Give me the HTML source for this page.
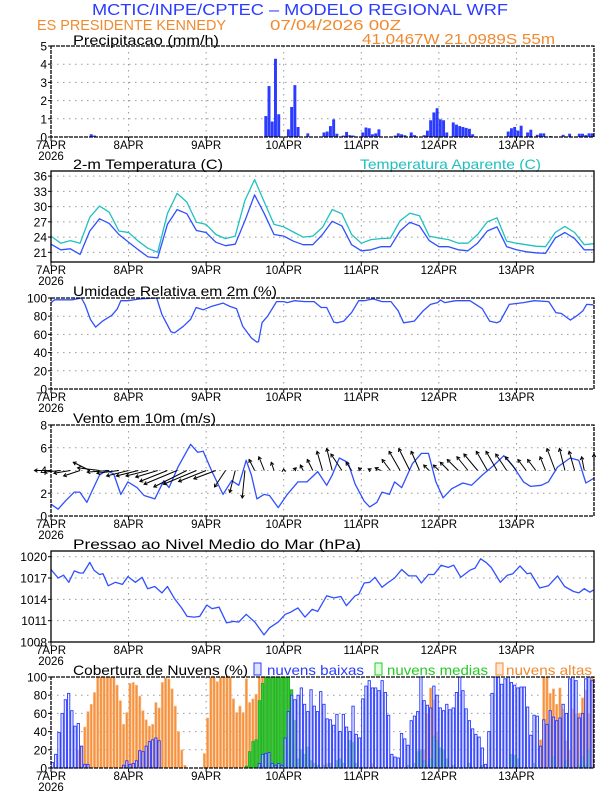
<!DOCTYPE html>
<html><head><meta charset="utf-8"><style>
body{margin:0;background:#fff}
svg{display:block;font-family:"Liberation Sans",sans-serif}
</style></head><body>
<svg id="chart" width="612" height="792" viewBox="0 0 612 792">
<rect width="612" height="792" fill="#fff"/>
<text x="92" y="15" font-size="16" fill="#2b3bff" textLength="416" lengthAdjust="spacingAndGlyphs">MCTIC/INPE/CPTEC – MODELO REGIONAL WRF</text>
<text x="37" y="30" font-size="15" fill="#f08a30" textLength="189" lengthAdjust="spacingAndGlyphs">ES PRESIDENTE KENNEDY</text>
<text x="270" y="30" font-size="15" fill="#f08a30" textLength="131" lengthAdjust="spacingAndGlyphs">07/04/2026 00Z</text>
<text x="362" y="44" font-size="15" fill="#f08a30" textLength="193" lengthAdjust="spacingAndGlyphs">41.0467W 21.0989S 55m</text>
<text x="73" y="45" font-size="14" fill="#000" textLength="146" lengthAdjust="spacingAndGlyphs">Precipitacao (mm/h)</text>
<text x="73" y="169" font-size="14" fill="#000" textLength="150" lengthAdjust="spacingAndGlyphs">2-m Temperatura (C)</text>
<text x="360" y="169" font-size="14" fill="#20c0c0" textLength="181" lengthAdjust="spacingAndGlyphs">Temperatura Aparente (C)</text>
<text x="73" y="296" font-size="14" fill="#000" textLength="204" lengthAdjust="spacingAndGlyphs">Umidade Relativa em 2m (%)</text>
<text x="73" y="423" font-size="14" fill="#000" textLength="143" lengthAdjust="spacingAndGlyphs">Vento em 10m (m/s)</text>
<text x="73" y="549" font-size="14" fill="#000" textLength="288" lengthAdjust="spacingAndGlyphs">Pressao ao Nivel Medio do Mar (hPa)</text>
<text x="73" y="675" font-size="14" fill="#000" textLength="175" lengthAdjust="spacingAndGlyphs">Cobertura de Nuvens (%)</text>
<rect x="254" y="663" width="7" height="12" fill="#dfe4ff" stroke="#2b3bff"/>
<text x="267" y="675" font-size="14" fill="#2b3bff" textLength="97" lengthAdjust="spacingAndGlyphs">nuvens baixas</text>
<rect x="375" y="663" width="7" height="12" fill="#dfffdf" stroke="#22cc22"/>
<text x="387" y="675" font-size="14" fill="#22cc22" textLength="101" lengthAdjust="spacingAndGlyphs">nuvens medias</text>
<rect x="496" y="663" width="7" height="12" fill="#ffe6d0" stroke="#f08a30"/>
<text x="506" y="675" font-size="14" fill="#f08a30" textLength="86" lengthAdjust="spacingAndGlyphs">nuvens altas</text>
<g id="plots"></g>
</svg>
<script>
// ---- data ----
const dayLabels = ["7APR","8APR","9APR","10APR","11APR","12APR","13APR"];
const precipHours = [5,12,13,66,67,68,69,70,73,74,75,76,79,84,85,86,87,88,90,91,92,93,96,97,98,99,100,101,106,107,108,109,111,112,115,116,117,118,119,120,121,122,124,125,126,127,128,129,130,141,142,143,144,145,147,148,150,151,152,154,158,160,163,164,165,166,167];
const precipValues = [0.03,0.15,0.08,1.15,2.8,0.85,4.3,1.25,0.42,1.65,2.85,0.55,0.2,0.25,0.3,0.6,0.97,0.18,0.08,0.28,0.1,0.08,0.25,0.52,0.48,0.15,0.2,0.42,0.08,0.2,0.15,0.1,0.25,0.1,0.1,0.35,0.92,1.35,1.58,0.97,0.92,0.25,0.8,0.68,0.6,0.55,0.5,0.45,0.15,0.3,0.48,0.55,0.35,0.62,0.25,0.4,0.12,0.2,0.2,0.05,0.12,0.18,0.18,0.18,0.1,0.2,0.2];
const tempHours = [0,3,6,9,12,15,18,21,24,27,30,33,36,39,42,45,48,51,54,57,60,63,66,69,72,75,78,81,84,87,90,93,96,99,102,105,108,111,114,117,120,123,126,129,132,135,138,141,144,147,150,153,156,159,162,165,168];
const tempValues = [22.6,21.5,21.7,20.6,25.2,27.6,26.7,24.5,23.0,21.5,20.1,19.9,26.5,29.4,28.6,25.3,24.9,23.0,22.3,22.6,27.2,32.3,28.6,24.5,24.2,23.2,22.5,22.5,24.5,27.1,26.2,22.5,21.3,21.5,22.1,22.1,25.2,26.9,26.2,23.3,22.1,22.1,21.5,21.3,22.8,25.2,26.0,22.1,21.5,21.1,20.9,20.8,23.8,24.9,23.7,21.5,21.5];
const apparentValues = [24.2,22.8,23.3,22.8,27.9,30.1,28.9,25.2,24.9,23.2,21.8,21.0,28.6,32.6,30.9,26.9,26.5,24.5,23.7,24.2,31.2,35.3,30.9,26.5,26.0,25.0,24.0,24.2,25.9,29.4,28.6,24.5,22.8,23.5,23.7,23.8,27.2,28.7,28.2,24.2,23.8,23.5,22.8,22.8,24.5,27.0,27.8,23.2,22.8,22.5,22.2,22.1,24.9,26.1,24.9,22.5,22.7];
const rhHours = [0,1.1,6.6,9.4,10.5,12.2,13.8,16.1,18.8,20.5,21.6,23.8,27.7,32.7,34.3,37.1,38.2,41,43.2,44.9,47.1,49.8,53.2,55.4,57.4,59.3,62,63.7,64.2,65.3,67,69.8,72,73.1,75.3,78.6,81.4,83.6,85.3,87.5,88.6,90.6,93,95.2,96.9,99.7,102.4,105.2,107.4,109.1,112.4,115.2,117.4,119.6,120.5,121.8,125.2,129.6,133.4,135.7,137.9,139,141.8,146.2,149.5,154,156.2,157.9,160.7,162.9,164.6,165.7,167.8];
const rhValues = [95,98,98,100,93,76.5,68,75,81,88,97,97,99,100,82,63,61.6,69,76.5,89.6,87,91,94.4,90.7,88.4,69,56,51.5,52,73,80,96,96,95,97,96,96,89.6,89.6,73.5,72.8,74.6,84,97,97,99,96,96,86,72.8,74.6,86,93,95,97.8,95,97,97,88.4,74.6,72.8,74.6,93,95,97,96,84,83,75.7,81,86,93,92.5];
const windHours = [0,2.2,4.4,7.2,8.9,11.1,12.7,15,17.2,19.4,21.6,23.8,26.6,28.8,32.1,34.9,36.5,39.3,43.2,45.4,47.1,49.8,53.2,55.9,58.1,60.4,62,63.7,65.9,67.6,70.3,73.1,76.4,79.2,82.5,85.3,87,89.2,91.9,94.1,96.9,98.6,100.8,102.4,104.7,106.3,108.5,111.8,114.6,116.8,119.1,121.3,124,127.4,130.1,133.4,136.8,140.1,142.9,146.2,148.4,151.7,153.9,156.7,160.6,163.3,165.5,167.8];
const windSpeed = [1.04,0.6,1.3,2.1,2.1,1.2,2.2,3.6,4.0,3.7,1.9,3.0,2.5,1.8,1.5,3.1,2.5,4.3,6.3,5.6,5.7,3.9,1.9,3.1,2.7,4.9,3.6,1.5,1.9,1.8,0.74,1.9,3.0,3.0,3.9,2.7,3.6,5.1,4.7,2.8,1.3,0.8,1.2,2.1,1.9,3.0,2.5,4.6,5.5,5.5,3.0,1.6,2.4,2.9,2.7,3.6,4.4,5.3,4.4,3.0,2.6,2.7,3.0,4.3,5.1,4.9,2.9,3.3];
const windU = [-3,-3,-3,-3,-3,-4,-4,-4,-4,-4,-4,-4,-5,-6,-6,-6,-5,-4,-2,-1,-0.5,-1,-1,-0.5,0,0.5,-0.5,-1,-1,-1,-2,-1,-0.5,-0.5,-1,-1.5,-2,-2,-1.5,-1,-1,-1.5,-2,-2,-2.5,-2,-2,-2,-2,-1.5,-1.5,-1,-1.5,-1,-1,-0.5,0];
const windV = [0,-0.3,-0.5,-1,1.5,0.5,-0.3,-0.5,-1,-1,-1,-1.2,-2,-2.5,-3,-2.5,-2,-1.5,-3,-4,-5,2,2.5,1.5,0.3,0.5,1,2,3.5,4,3,1.5,0.5,0.3,0.5,2,3.5,4,3.5,1,1,1.5,2,2.5,3,3.5,3.5,3,2.5,2,2,2.5,4,4,3.5,2.5,3];
const pressHours = [0,2.2,3.9,5.5,7.2,8.9,10,12,13.3,15,16.1,17.7,19.9,22.1,23.8,26.1,28.2,29.9,32.1,34.3,36,38.2,40.4,42.1,44.3,46,48.2,49.8,52,54.3,56.5,58.1,60.4,63.1,65.9,67.6,70.3,72.5,74.2,76.4,78.6,80.8,82.5,85.3,87.5,89.7,91.4,94.1,95.2,96.9,98.6,100.2,102.4,104.1,106.3,108.5,110.7,113,114.6,116.8,118.5,120.7,122.9,124.6,126.8,129.6,131.2,132.9,134.6,136.2,139,141.2,142.9,145.1,147.3,148.4,151.2,153.9,156.7,158.9,161.7,163.3,165,166.7,167.8];
const pressValues = [1018.2,1017.0,1017.4,1016.4,1018.0,1017.7,1017.7,1019.2,1018.1,1017.5,1017.6,1015.9,1016.4,1016.1,1017.2,1016.4,1017.1,1015.5,1015.8,1014.9,1015.8,1014.1,1012.8,1011.6,1011.5,1011.6,1013.2,1012.7,1012.9,1010.7,1010.9,1010.8,1011.9,1010.8,1009.0,1010.0,1010.8,1011.9,1012.2,1012.8,1011.5,1012.6,1012.3,1014.5,1014.2,1014.4,1013.1,1014.5,1014.7,1016.3,1016.4,1017.1,1015.7,1016.3,1017.0,1018.2,1017.3,1017.3,1016.3,1017.5,1017.5,1018.8,1018.5,1018.8,1017.1,1018.1,1018.4,1019.7,1019.2,1018.5,1016.4,1017.4,1017.6,1018.7,1017.6,1017.7,1015.6,1015.9,1017.3,1015.8,1015.1,1014.9,1015.5,1015.0,1015.3];
const cloudLow = [6,15,39,60,75,82,63,46,49,24,4,4, 0,0,0,0,0,0,0,0,0,0, 3,8,4,5,8,19,18,24,29,31,33,30,
 0,0,0,0,0,0,0,0,0,0,0,0,0,0,0,0,0,0,0,0,0,0,0,0,0,0,0,0,0,0, 5,15,16,17,5,3,5,3,
 33,62,80,75,80,88,70,62,86,68,62,84,70,54,53,47,59,40,59,45,40,68,37,33,
 76,90,96,88,88,85,96,83,58,15,12,11,38,32,25,52,57,62,100,74,69,66,90,80,
 66,63,70,64,66,83,100,85,65,52,43,37,34,22,4,40,82,100,100,92,98,100,94,91,
 88,89,89,67,36,58,57,24,53,48,63,56,52,55,70,60,98,100,96,55,60,98,100,96];
const cloudMid = [0,0,0,0,0,0,0,0,0,0,0,0,0,0,0,0,0,0,0,0,0,0,0,0,0,0,0,0,0,0,0,0,0,0,0,0,0,0,0,0,0,0,0,0,0,0,0,0,0,0,0,0,0,0,0,0,0,0,0,0,
 2,18,29,31,74,93,100,100,100,100,100,100, 100,100,86,52,10,20,15,23,8,5,3,0, 3,0,5,0,8,10,5,0,30,28,5,0,
 0,0,0,0,0,0,0,0,0,0,0,0, 0,0,3,0,5,18,20,8,3,10,35,30, 22,20,10,0,3,0,0,0,0,5,0,0,
 0,3,0,0,0,0,0,0,0,0,15,14, 10,0,0,0,0,5,0,0,0,0,0,12, 0,0,0,8,0,0,0,3,12,3,20,0];
const cloudHigh = [0,0,0,0,0,0,0,0, 20,24,45,62,70,83,100,100,100,100,100,100, 91,74,48,61,93,94,91,79,63,53,46,48,
 72,66,94,99,98,87,68,40,20,3,0,0, 0,0,0,16,55,100,100,95,100,100,100,100, 76,61,68,61,98,72,76,81,100,100,100,100,
 100,100,100,100,100,80,20,0,5,0,0,0, 0,0,0,0,0,5,0,0,0,0,0,0, 0,0,0,0,0,0,0,5,0,0,0,0,
 0,0,0,0,0,0,0,0,0,0,3,20, 60,88,75,40,15,0,5,0,0,0,0,0, 0,0,0,0,0,0,0,0,0,0,0,0,
 0,0,0,0,0,0,0,0,0,0,0,31, 100,100,82,87,70,88,65,30,20,65,60,60, 77,86,60,100];

// ---- layout ----
const NS = "http://www.w3.org/2000/svg";
const X0 = 51, X1 = 594, HOURS = 168;
const xh = h => X0 + h * (X1 - X0) / HOURS;
const root = document.getElementById('plots');
function mk(tag, attrs, parent) {
  const e = document.createElementNS(NS, tag);
  for (const k in attrs) e.setAttribute(k, attrs[k]);
  (parent || root).appendChild(e);
  return e;
}
const panels = {
  precip: {top: 46, bottom: 137, min: 0, max: 5, ticks: [0,1,2,3,4,5], dash: "4,1"},
  temp: {top: 171, bottom: 262, min: 19.1, max: 37.0, ticks: [21,24,27,30,33,36], dash: ""},
  rh: {top: 298, bottom: 389, min: 0, max: 100, ticks: [0,20,40,60,80,100], dash: "4,1"},
  wind: {top: 425, bottom: 516, min: 0, max: 8, ticks: [0,2,4,6,8], dash: "4,1"},
  press: {top: 551, bottom: 642, min: 1008, max: 1020.8, ticks: [1008,1011,1014,1017,1020], dash: ""},
  cloud: {top: 677, bottom: 768, min: 0, max: 100, ticks: [0,20,40,60,80,100], dash: "4,1"}
};
function yOf(p, v) { return p.bottom - (v - p.min) / (p.max - p.min) * (p.bottom - p.top); }

function drawFrame(name, p) {
  const g = mk('g', {});
  
  
  p.ticks.forEach(t => {
    const y = yOf(p, t);
    if (y > p.top + 1 && y < p.bottom - 1) {
      const gl = mk('line', {x1: X0, x2: X1, y1: y, y2: y, stroke: '#999', 'stroke-dasharray': '1.5,4.5', 'stroke-width': 1}, g);
      
      
    }
    const tl = mk('text', {x: 47, y: y + 4.5, 'font-size': 12, 'text-anchor': 'end', fill: '#000'}, g);
    tl.textContent = t;
    
    
    mk('line', {x1: X0 - 3, x2: X0, y1: y, y2: y, stroke: '#000'}, g);
  });
  dayLabels.forEach((d, i) => {
    const x = xh(i * 24);
    if (i > 0) {
      const vl = mk('line', {x1: x, x2: x, y1: p.top, y2: p.bottom, stroke: '#999', 'stroke-dasharray': '1.5,4.5'}, g);
      
      
    }
    mk('line', {x1: x, x2: x, y1: p.bottom, y2: p.bottom + 4, stroke: '#000'}, g);
    const lbl = mk('text', {x: x, y: p.bottom + 12, 'font-size': 11.5, 'text-anchor': 'middle', fill: '#000'}, g);
    lbl.textContent = d;
    
    
  });
  const yr = mk('text', {x: X0, y: p.bottom + 23, 'font-size': 11.5, 'text-anchor': 'middle', fill: '#000'}, g);
  yr.textContent = '2026';
  
  
  return g;
}
function drawBorder(name, p) {
  const b = mk('rect', {x: X0, y: p.top, width: X1 - X0, height: p.bottom - p.top, fill: 'none', stroke: '#000', 'stroke-width': 1.3, 'stroke-dasharray': p.dash});
  
  
}
function drawLine(name, p, hours, vals, color) {
  const n = Math.min(hours.length, vals.length);
  const pts = [];
  for (let i = 0; i < n; i++) pts.push(xh(hours[i]).toFixed(1) + ',' + yOf(p, vals[i]).toFixed(1));
  const l = mk('polyline', {points: pts.join(' '), fill: 'none', stroke: color, 'stroke-width': 1.3, 'stroke-linejoin': 'round'});
  
  
}
for (const k in panels) drawFrame(k, panels[k]);

// precipitation bars
const bw = (X1 - X0) / HOURS;
precipHours.forEach((h, i) => {
  const p = panels.precip, y = yOf(p, precipValues[i]);
  const r = mk('rect', {x: xh(h), y: y, width: bw - 0.3, height: p.bottom - y, fill: '#2b3bff'});
  
  
});

// temperature
drawLine('apparent-temp-line', panels.temp, tempHours, apparentValues, '#20c0c0');
drawLine('temp-line', panels.temp, tempHours, tempValues, '#3050ff');
// RH
drawLine('rh-line', panels.rh, rhHours, rhValues, '#3050ff');
// wind
drawLine('wind-speed-line', panels.wind, windHours, windSpeed, '#3050ff');
const K = 5.5;
const by = yOf(panels.wind, 4);
windU.forEach((u, i) => {
  const v = windV[i];
  const x = xh(tempHours[i]);
  const ex = x + u * K, ey = by - v * K;
  const g = mk('g', {stroke: '#000', 'stroke-width': 1, fill: 'none'});
  
  
  mk('line', {x1: x, y1: by, x2: ex, y2: ey}, g);
  const ang = Math.atan2(ey - by, ex - x), L = 3.5;
  mk('polyline', {points: [ex + L * Math.cos(ang + 2.6), ey + L * Math.sin(ang + 2.6), ex, ey, ex + L * Math.cos(ang - 2.6), ey + L * Math.sin(ang - 2.6)].reduce((s, c, j) => s + (j % 2 ? ',' : ' ') + c.toFixed(1), '').trim()}, g);
});
// pressure
drawLine('pressure-line', panels.press, pressHours, pressValues, '#3050ff');

// clouds
function cloudBars(vals, name, fill, stroke, sw) {
  const p = panels.cloud;
  vals.forEach((v, h) => {
    if (v <= 0) return;
    const y = yOf(p, v);
    const r = mk('rect', {x: xh(h) + 0.3, y: y, width: bw - 0.9, height: p.bottom - y, fill: fill, stroke: stroke, 'stroke-width': sw});
    
    
  });
}
cloudBars(cloudHigh, 'cloud-high-bar', '#f5913f', '#fbbf8a', 0.6);
cloudBars(cloudMid, 'cloud-mid-bar', '#33cc33', '#22aa22', 0.8);
cloudBars(cloudLow, 'cloud-low-bar', 'rgba(215,222,255,0.55)', '#2b3bff', 0.9);

for (const k in panels) drawBorder(k, panels[k]);
</script>
</body></html>
